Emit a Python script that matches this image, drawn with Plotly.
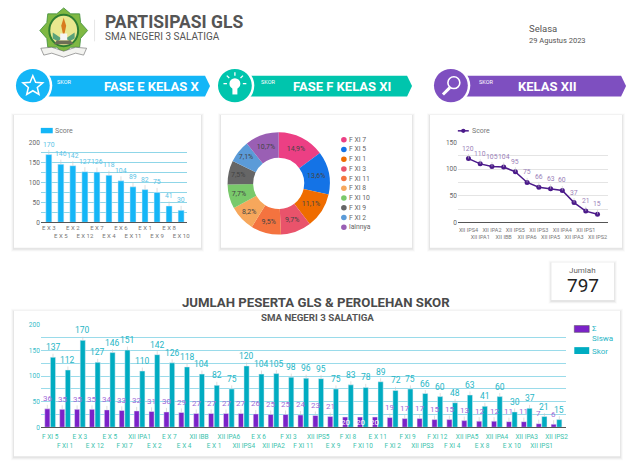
import math
import plotly.graph_objects as go

W, H = 640, 476
FONT = "Roboto"

# ---------- data ----------
cats_x = ["E X 3", "E X 5", "E X 2", "E X 12", "E X 7", "E X 4", "E X 6", "E X 11", "E X 1", "E X 9", "E X 8", "E X 10"]
vals_x = [170, 146, 142, 127, 126, 118, 104, 89, 82, 75, 41, 30]

cats_xi = ["F XI 7", "F XI 5", "F XI 1", "F XI 3", "F XI 11", "F XI 8", "F XI 10", "F XI 9", "F XI 2", "lainnya"]
vals_xi = [14.9, 13.6, 11.1, 9.7, 9.5, 8.2, 7.7, 7.5, 7.1, 10.7]
labels_xi = ["14,9%", "13,6%", "11,1%", "9,7%", "9,5%", "8,2%", "7,7%", "7,5%", "7,1%", "10,7%"]
colors_xi = ["#ec3f84", "#1473e6", "#ef6c00", "#e9536b", "#f4733f", "#f6a75c", "#79c96b", "#666666", "#5b9bd8", "#9a5fb4"]

cats_xii = ["XII IPS4", "XII IPA1", "XII IPA2", "XII IBB", "XII IPS5", "XII IPA6", "XII IPS3", "XII IPA5", "XII IPA4", "XII IPA3", "XII IPS1", "XII IPS2"]
vals_xii = [120, 110, 105, 104, 95, 75, 66, 63, 60, 37, 21, 15]

cats_all = ["F XI 5", "F XI 1", "E X 3", "E X 12", "E X 5", "F XI 7", "XII IPA1", "E X 2", "E X 7", "E X 4", "XII IBB", "E X 1",
            "XII IPA6", "XII IPS4", "E X 6", "XII IPA2", "F XI 3", "F XI 11", "XII IPS5", "E X 9", "F XI 8", "F XI 10", "E X 11",
            "F XI 2", "F XI 9", "XII IPS3", "F XI 12", "F XI 4", "XII IPA5", "E X 8", "XII IPA4", "E X 10", "XII IPA3", "XII IPS1", "XII IPS2"]
siswa = [36, 35, 35, 35, 34, 33, 32, 31, 30, 29, 27, 27, 27, 27, 26, 25, 25, 24, 23, 21, 20, 20, 20, 19, 17, 17, 15, 15, 13, 12, 12, 11, 11, 7, 6]
skor = [137, 112, 170, 127, 146, 151, 110, 142, 126, 118, 104, 82, 75, 120, 104, 105, 98, 96, 95, 75, 83, 78, 89, 72, 75, 66, 60, 48, 63, 41, 60, 30, 37, 21, 15]
total = "797"


# ---------- helpers ----------
def px(x):
    return x / W


def py(y):
    return 1 - y / H


shapes, notes = [], []


def rect(x0, y0, x1, y1, fill, line=None, lw=0):
    shapes.append(dict(type="rect", xref="paper", yref="paper", x0=px(x0), x1=px(x1), y0=py(y0), y1=py(y1),
                       fillcolor=fill, line=dict(color=line or fill, width=lw), layer="below"))


def oval(cx, cy, rx, ry, fill, line=None, lw=0):
    shapes.append(dict(type="circle", xref="paper", yref="paper", x0=px(cx - rx), x1=px(cx + rx), y0=py(cy + ry), y1=py(cy - ry),
                       fillcolor=fill, line=dict(color=line or fill, width=lw), layer="below"))


def poly(points, fill=None, line=None, lw=0, close=True):
    d = "M" + " L".join(f"{px(a):.5f},{py(b):.5f}" for a, b in points) + (" Z" if close else "")
    shapes.append(dict(type="path", xref="paper", yref="paper", path=d, fillcolor=fill or "rgba(0,0,0,0)",
                       line=dict(color=line or "rgba(0,0,0,0)", width=lw), layer="below"))


def seg(x0, y0, x1, y1, color, lw=1):
    shapes.append(dict(type="line", xref="paper", yref="paper", x0=px(x0), x1=px(x1), y0=py(y0), y1=py(y1),
                       line=dict(color=color, width=lw), layer="below"))


def text(x, y, s, size, color, anchor="left", bold=False):
    notes.append(dict(xref="paper", yref="paper", x=px(x - 2 if anchor == "left" else x), y=py(y),
                      text=f"<b>{s}</b>" if bold else s, showarrow=False,
                      xanchor=anchor, yanchor="middle", font=dict(family=FONT, size=size, color=color)))


def card(x0, y0, x1, y1):
    for d, a in ((3, 0.02), (2, 0.03), (1, 0.05)):
        rect(x0 - d, y0 - d + 1, x1 + d, y1 + d + 1, f"rgba(0,0,0,{a})")
    rect(x0, y0, x1, y1, "#ffffff")


def ribbon(cx, x1, color, big, big_x, skor_x):
    poly([(cx + 15, 73), (x1 - 5, 73), (x1, 83.5), (x1 - 5, 94), (cx + 15, 94)], fill=color)
    oval(cx, 83, 19.5, 19.5, "#ffffff")
    oval(cx, 83, 17, 17, color)
    text(skor_x, 79, "SKOR", 5.5, "#ffffff")
    text(big_x, 83.5, big, 13, "#ffffff", anchor="center", bold=True)


def star(cx, cy, r):
    pts = []
    for i in range(10):
        rr = r if i % 2 == 0 else r * 0.45
        a = -math.pi / 2 + i * math.pi / 5
        pts.append((cx + rr * math.cos(a), cy + rr * math.sin(a)))
    poly(pts, line="#ffffff", lw=1.5)


def stagger(labels):
    return [s if i % 2 == 0 else "<br>" + s for i, s in enumerate(labels)]


def point_labels(cats, vals, xa, ya, color, up=10, size=8, xshift=0, inside=()):
    for c, v in zip(cats, vals):
        if v in inside:
            notes.append(dict(xref=xa, yref=ya, x=c, y=v / 2, text=str(v), showarrow=False, xshift=xshift,
                              font=dict(family=FONT, size=size, color="#ffffff")))
        else:
            notes.append(dict(xref=xa, yref=ya, x=c, y=v, text=str(v), showarrow=True, arrowhead=0, arrowwidth=0.6,
                              arrowcolor="#c8c8c8", ax=0, ay=-up, xshift=xshift, standoff=0,
                              font=dict(family=FONT, size=size, color=color)))


# ---------- page decoration ----------
# logo
poly([(64, 4), (71, 10), (80, 10), (81, 19), (88, 27), (81, 35), (80, 44), (71, 44), (64, 50), (57, 44), (48, 44), (47, 35), (40, 27), (47, 19), (48, 10), (57, 10)],
     fill="#7fb843", line="#3e8e3a", lw=0.8)
oval(64, 27, 15.5, 17, "#2e7d32")
oval(64, 27, 13.5, 15, "#e9e78f")
poly([(64, 14), (66.5, 22), (64, 34), (61.5, 22)], fill="#d87a1e")
poly([(53, 29), (62, 35), (58, 38), (53, 35)], fill="#5aa27a")
poly([(75, 29), (66, 35), (70, 38), (75, 35)], fill="#5aa27a")
rect(60.5, 30, 67.5, 37, "#f5f5f5")
poly([(57, 37), (71, 37), (74, 41), (54, 41)], fill="#6d6d55")
poly([(41, 45), (52, 44), (64, 48), (76, 44), (87, 45), (84, 52), (76, 50), (64, 54), (52, 50), (44, 52)], fill="#f3f3f0", line="#666666", lw=0.6)
seg(95, 16, 95, 38, "#e6e6e6", 1)

text(105, 18, "PARTISIPASI GLS", 17.5, "#555555", bold=True)
text(105, 33, "SMA NEGERI 3 SALATIGA", 10, "#555555")
text(531, 25, "Selasa", 9.5, "#555555")
text(531, 37, "29 Agustus 2023", 7.5, "#555555")

ribbon(33, 211, "#14b6f7", "FASE E KELAS X", 152, 57)
ribbon(236, 414, "#00c5ad", "FASE F KELAS XI", 344, 262)
ribbon(453, 629, "#7e4fc0", "KELAS XII", 550, 481)
star(33, 83.5, 10.5)
# bulb
oval(236, 81, 5.5, 5.5, "#ffffff")
rect(233.5, 85, 238.5, 92, "#ffffff")
for a in range(180, 361, 45):
    ca, sa = math.cos(math.radians(a)), math.sin(math.radians(a))
    seg(236 + 8 * ca, 81 + 8 * sa, 236 + 11.5 * ca, 81 + 11.5 * sa, "#ffffff", 1.3)
# magnifier
oval(456, 80, 6, 6, "rgba(0,0,0,0)", "#ffffff", 1.6)
seg(452, 85, 445, 92, "#ffffff", 3)

card(14, 113, 202, 248)
card(222, 113, 414, 248)
card(432, 113, 625, 248)
card(14, 312, 623, 460)
card(554, 263, 617, 301)

text(585.5, 271, "Jumlah", 8, "#666666", anchor="center")
text(585.5, 286, total, 19, "#222222", anchor="center")
text(317, 304, "JUMLAH PESERTA GLS &amp; PEROLEHAN SKOR", 13.2, "#4a4a4a", anchor="center", bold=True)
text(319, 319, "SMA NEGERI 3 SALATIGA", 9.7, "#555555", anchor="center", bold=True)

# ---------- chart legends ----------
rect(41, 126, 53, 131.5, "#14b6f7")
text(55, 129, "Score", 7, "#777777")
seg(460, 129, 471, 129, "#4b1a8a", 1.5)
oval(465.5, 129, 2.2, 2.2, "#4b1a8a")
text(474, 129, "Score", 7, "#777777")
for i, (c, col) in enumerate(zip(cats_xi, colors_xi)):
    yy = 138 + i * 9.9
    oval(345.5, yy, 2.8, 2.8, col)
    text(351, yy, c, 6.8, "#666666")
rect(577, 327, 592, 334, "#7b22c8", "#555555", 0.5)
text(595, 330, "Σ", 8, "#29b6c6")
text(595, 340, "Siswa", 8, "#29b6c6")
rect(577, 349, 592, 356, "#00acc1")
text(595, 353, "Skor", 8, "#29b6c6")

fig = go.Figure()

# ---------- chart 1: bars ----------
fig.add_bar(x=cats_x, y=vals_x, marker_color="#14b6f7", width=0.5, xaxis="x", yaxis="y", showlegend=False)
point_labels(cats_x, vals_x, "x", "y", "#5cc4e6", up=10, size=6.8)

# ---------- chart 2: donut ----------
fig.add_pie(labels=cats_xi, values=vals_xi, text=labels_xi, textinfo="text", hole=0.5, sort=False, direction="clockwise",
            rotation=0, marker=dict(colors=colors_xi, line=dict(width=0)), textposition="inside",
            insidetextorientation="horizontal", textfont=dict(family=FONT, size=7, color="#444444"),
            domain=dict(x=[px(228), px(332)], y=[py(234.5), py(130.5)]), showlegend=False)

# ---------- chart 3: line ----------
fig.add_scatter(x=cats_xii, y=vals_xii, mode="lines+markers", line=dict(color="#4b1a8a", width=1.5),
                marker=dict(color="#4b1a8a", size=5), xaxis="x2", yaxis="y2", showlegend=False)
point_labels(cats_xii, vals_xii, "x2", "y2", "#9b7fb8", up=10, size=6.8)

# ---------- chart 4: grouped bars ----------
fig.add_bar(x=cats_all, y=siswa, name="Σ Siswa", marker_color="#7b22c8", xaxis="x3", yaxis="y3", showlegend=False)
fig.add_bar(x=cats_all, y=skor, name="Skor", marker_color="#00acc1", xaxis="x3", yaxis="y3", showlegend=False)
point_labels(cats_all, siswa, "x3", "y3", "#a06ad8", up=10, size=8, xshift=-2.85, inside=(20,))
point_labels(cats_all, skor, "x3", "y3", "#26b6c6", up=10, size=8.5, xshift=2.85)


def xaxis(a, b, cats, tick_color, size, pad=0):
    return dict(domain=[px(a), px(b)], type="category", categoryorder="array", categoryarray=cats,
                tickmode="array", tickvals=cats, ticktext=stagger(cats), showgrid=False,
                ticks="outside" if pad else "", ticklen=pad, tickcolor="rgba(0,0,0,0)",
                showline=True, linecolor="#555555", linewidth=1, tickangle=0,
                tickfont=dict(family=FONT, size=size, color=tick_color))


def yaxis(top, bottom, ymax, grid, tick_color):
    return dict(domain=[py(bottom), py(top)], range=[0, ymax], tickmode="array", tickvals=list(range(0, ymax + 1, 50)),
                showgrid=True, gridcolor=grid, gridwidth=1, zeroline=False, ticks="", showline=False,
                tickfont=dict(family=FONT, size=6.5, color=tick_color),
                minor=dict(tickmode="linear", tick0=0, dtick=25, showgrid=True, gridcolor=grid, gridwidth=1))


xa1 = xaxis(41, 188, cats_x, "#777777", 6)
ya1 = yaxis(141, 222, 200, "#8fd6e8", "#666666")
xa1["anchor"] = "y"
ya1["anchor"] = "x"
xa2 = xaxis(460, 611, cats_xii, "#777777", 5.5, pad=2)
ya2 = yaxis(141, 222, 150, "#e4e4e4", "#666666")
xa2["anchor"] = "y2"
ya2["anchor"] = "x2"
xa3 = xaxis(41, 569, cats_all, "#3cc3ad", 6.5, pad=3)
ya3 = yaxis(326.5, 430.5, 200, "#9adbea", "#36bcc9")
xa3["anchor"] = "y3"
ya3["anchor"] = "x3"

fig.update_layout(
    width=W, height=H, autosize=False, margin=dict(l=0, r=0, t=0, b=0),
    paper_bgcolor="#ffffff", plot_bgcolor="rgba(0,0,0,0)", showlegend=False,
    barmode="group", bargap=0.245, bargroupgap=0.08,
    font=dict(family=FONT), shapes=shapes, annotations=notes,
    xaxis=xa1, yaxis=ya1, xaxis2=xa2, yaxis2=ya2, xaxis3=xa3, yaxis3=ya3,
)
fig.write_html("out.html", config=dict(displayModeBar=False),
               post_script="document.body.style.margin='0';document.documentElement.style.margin='0';")
